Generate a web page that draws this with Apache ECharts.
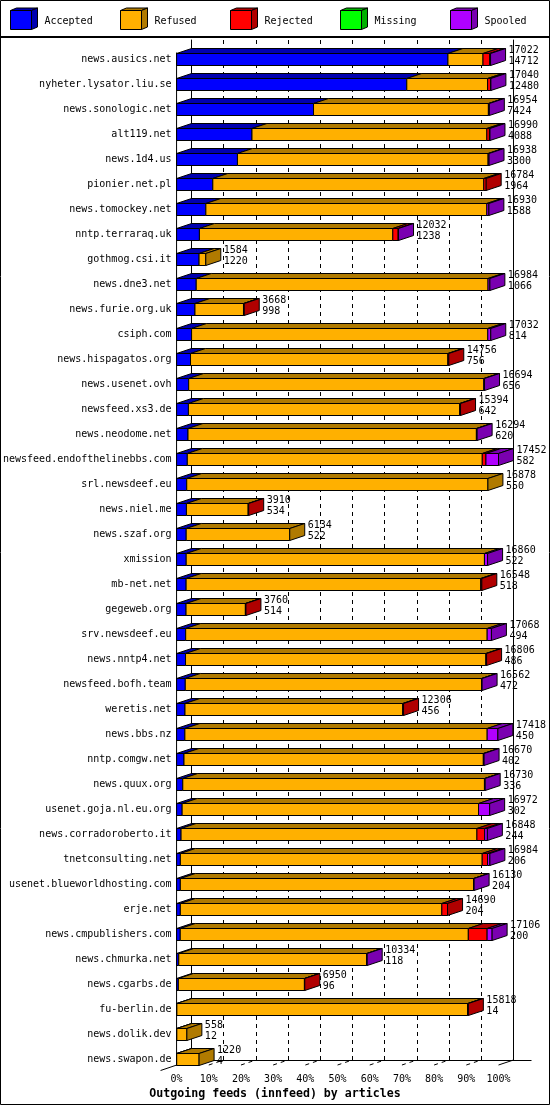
<!DOCTYPE html>
<html><head><meta charset="utf-8">
<script src="https://cdn.jsdelivr.net/npm/echarts@6/dist/echarts.min.js"></script>
<style>html,body{margin:0;padding:0;background:#fff}#c{width:550px;height:1105px}</style>
</head><body><div id="c"></div>
<script>
// ---------------- data ----------------
const hosts = ['news.ausics.net','nyheter.lysator.liu.se','news.sonologic.net','alt119.net','news.1d4.us','pionier.net.pl','news.tomockey.net','nntp.terraraq.uk','gothmog.csi.it','news.dne3.net','news.furie.org.uk','csiph.com','news.hispagatos.org','news.usenet.ovh','newsfeed.xs3.de','news.neodome.net','newsfeed.endofthelinebbs.com','srl.newsdeef.eu','news.niel.me','news.szaf.org','xmission','mb-net.net','gegeweb.org','srv.newsdeef.eu','news.nntp4.net','newsfeed.bofh.team','weretis.net','news.bbs.nz','nntp.comgw.net','news.quux.org','usenet.goja.nl.eu.org','news.corradoroberto.it','tnetconsulting.net','usenet.blueworldhosting.com','erje.net','news.cmpublishers.com','news.chmurka.net','news.cgarbs.de','fu-berlin.de','news.dolik.dev','news.swapon.de'];
const offered  = [17022,17040,16954,16990,16938,16784,16930,12032,1584,16984,3668,17032,14756,16694,15394,16294,17452,16878,3910,6134,16860,16548,3760,17068,16806,16562,12306,17418,16670,16730,16972,16848,16984,16130,14690,17106,10334,6950,15818,558,1220];
const accepted = [14712,12480,7424,4088,3300,1964,1588,1238,1220,1066,998,814,756,656,642,620,582,550,534,522,522,518,514,494,486,472,456,450,402,336,302,244,206,204,204,200,118,96,14,12,4];
const refused  = [1900,4380,9480,12732,13588,14690,15232,10484,364,15818,2630,16058,13950,15998,14702,15634,15990,16328,3346,5612,16168,15970,3216,16344,16280,16060,11800,16388,16228,16354,16070,16039,16363,15896,14176,15616,10186,6834,15764,546,1216];
const rejected = [360,160,0,140,0,130,0,290,0,0,40,0,50,0,50,0,200,0,30,0,0,60,30,0,40,0,50,0,0,0,0,420,290,0,310,1020,0,20,40,0,0];
const missing  = [0,0,0,0,0,0,0,0,0,0,0,0,0,0,0,0,0,0,0,0,0,0,0,0,0,0,0,0,0,0,0,0,0,0,0,0,0,0,0,0,0];
const spooled  = [50,20,50,30,50,0,110,20,0,100,0,160,0,40,0,40,680,0,0,0,170,0,0,230,0,30,0,580,40,40,600,145,125,30,0,270,30,0,0,0,0];
const seriesNames = ['Accepted','Refused','Rejected','Missing','Spooled'];
const xTickLabels = ['0%','10%','20%','30%','40%','50%','60%','70%','80%','90%','100%'];
const titleText = 'Outgoing feeds (innfeed) by articles';

// ---------------- styles ----------------
const FRONT = ['#0000ff','#ffb000','#ff0000','#00ff00','#b000ff'];
const DARK  = ['#0000b0','#b07a00','#b00000','#00b000','#7a00b0'];
const FONT = '"DejaVu Sans Mono", "Liberation Mono", monospace';
const DX = 15, DY = -5, HALF = 6;
const FRONT_LEFT = 176.5, BACK_LEFT = 191.5, PLOT_W = 322;
const GRID_TOP = 47, ROW_H = 25;
const BACK_TOP = 40, BACK_BOTTOM = 1060;

const scaleMax = Math.max(...offered);
const pct = v => v / scaleMax * 100;
const rows = hosts.map((h, i) => [i, pct(accepted[i]), pct(refused[i]), pct(rejected[i]), pct(missing[i]), pct(spooled[i]), offered[i], accepted[i]]);

function renderItem(params, api) {
  const row = api.value(0);
  const segs = [api.value(1), api.value(2), api.value(3), api.value(4), api.value(5)];
  const c0 = api.coord([0, row]);
  const cy = c0[1];
  const yt = cy - HALF, yb = cy + HALF;
  const children = [];
  let cum = 0, lastIdx = -1, lastX = c0[0];
  for (let s = 0; s < 5; s++) {
    const v = segs[s];
    if (!(v > 0)) continue;
    const x0 = api.coord([cum, row])[0];
    cum += v;
    const x1 = api.coord([cum, row])[0];
    children.push({type: 'polygon', shape: {points: [[x0, yt], [x1, yt], [x1 + DX, yt + DY], [x0 + DX, yt + DY]]},
      style: {fill: DARK[s], stroke: '#000', lineWidth: 1}});
    children.push({type: 'rect', shape: {x: x0, y: yt, width: x1 - x0, height: yb - yt},
      style: {fill: FRONT[s], stroke: '#000', lineWidth: 1}});
    lastIdx = s; lastX = x1;
  }
  if (lastIdx >= 0) {
    children.push({type: 'polygon', shape: {points: [[lastX, yt], [lastX + DX, yt + DY], [lastX + DX, yb + DY], [lastX, yb]]},
      style: {fill: DARK[lastIdx], stroke: '#000', lineWidth: 1}});
  }
  const tx = lastX + DX + 3;
  children.push({type: 'text', style: {text: String(api.value(6)), x: tx, y: cy - 9.5, fill: '#000', font: '10px ' + FONT, align: 'left', verticalAlign: 'middle', textAlign: 'left', textVerticalAlign: 'middle'}});
  children.push({type: 'text', style: {text: String(api.value(7)), x: tx, y: cy + 2, fill: '#000', font: '10px ' + FONT, align: 'left', verticalAlign: 'middle', textAlign: 'left', textVerticalAlign: 'middle'}});
  return {type: 'group', children};
}

const chart = echarts.init(document.getElementById('c'), null, {renderer: 'canvas'});
chart.setOption({
  backgroundColor: '#fff',
  animation: false,
  title: {text: titleText, left: 'center', top: 1087, padding: 0,
    textStyle: {fontFamily: FONT, fontSize: 11.6, fontWeight: 'bold', color: '#000', lineHeight: 14}},
  grid: [
    {left: FRONT_LEFT, top: GRID_TOP, width: PLOT_W, height: ROW_H * hosts.length, containLabel: false},
    {left: BACK_LEFT, top: BACK_TOP, width: PLOT_W, height: BACK_BOTTOM - BACK_TOP, containLabel: false}
  ],
  xAxis: [
    {gridIndex: 0, type: 'value', min: 0, max: 100, interval: 10,
      axisLine: {show: false}, axisTick: {show: false}, splitLine: {show: false},
      axisLabel: {margin: 1, color: '#000', fontFamily: FONT, fontSize: 10, lineHeight: 12,
        formatter: v => xTickLabels[Math.round(v / 10)]}},
    {gridIndex: 1, type: 'value', min: 0, max: 100, interval: 10,
      axisLine: {show: false}, axisTick: {show: false}, axisLabel: {show: false},
      splitLine: {show: true, lineStyle: {color: '#000', width: 1, type: [4, 4]}}}
  ],
  yAxis: [
    {gridIndex: 0, type: 'category', data: hosts, inverse: true,
      axisLine: {show: false}, axisTick: {show: false}, splitLine: {show: false},
      axisLabel: {margin: 5, color: '#000', fontFamily: FONT, fontSize: 10, interval: 0}},
    {gridIndex: 1, type: 'value', min: 0, max: 1, position: 'left',
      axisLine: {show: true, onZero: false, lineStyle: {color: '#000', width: 1}},
      axisTick: {show: false}, axisLabel: {show: false}, splitLine: {show: false}},
    {gridIndex: 1, type: 'value', min: 0, max: 1, position: 'right',
      axisLine: {show: true, onZero: false, lineStyle: {color: '#000', width: 1}},
      axisTick: {show: false}, axisLabel: {show: false}, splitLine: {show: false}}
  ],
  series: [{
    type: 'custom', name: 'feeds', xAxisIndex: 0, yAxisIndex: 0, z: 2,
    renderItem: renderItem, data: rows, clip: false,
    encode: {x: [1, 2, 3, 4, 5], y: 0}
  }]
});

// ---------------- frame, legend and floor ----------------
const graphics = [];
graphics.push({type: 'rect', z: 10, shape: {x: 0.5, y: 0.5, width: 549, height: 1104}, style: {fill: null, stroke: '#000', lineWidth: 1}});
graphics.push({type: 'line', z: 10, shape: {x1: 0, y1: 37, x2: 550, y2: 37}, style: {stroke: '#000', lineWidth: 2}});
// legend
seriesNames.forEach((name, i) => {
  const x = 10.5 + 110 * i, y = 10.5, w = 21, h = 19, dx = 6, dy = -2.5;
  graphics.push({type: 'polygon', z: 10, shape: {points: [[x, y], [x + w, y], [x + w + dx, y + dy], [x + dx, y + dy]]}, style: {fill: DARK[i], stroke: '#000', lineWidth: 1}});
  graphics.push({type: 'polygon', z: 10, shape: {points: [[x + w, y], [x + w + dx, y + dy], [x + w + dx, y + h + dy], [x + w, y + h]]}, style: {fill: DARK[i], stroke: '#000', lineWidth: 1}});
  graphics.push({type: 'rect', z: 10, shape: {x: x, y: y, width: w, height: h}, style: {fill: FRONT[i], stroke: '#000', lineWidth: 1}});
  graphics.push({type: 'text', z: 10, style: {text: name, x: 44.5 + 110 * i, y: 21, fill: '#000', font: '10px ' + FONT, textVerticalAlign: 'middle', verticalAlign: 'middle'}});
});
// floor lines
const FLOOR_FRONT = BACK_BOTTOM - DY;
const fx = p => chart.convertToPixel({xAxisIndex: 0}, p);
const bx = p => chart.convertToPixel({xAxisIndex: 1}, p);
graphics.push({type: 'line', z: 0, shape: {x1: bx(0), y1: BACK_BOTTOM + 0.5, x2: bx(100) + 18, y2: BACK_BOTTOM + 0.5}, style: {stroke: '#000', lineWidth: 1}});
graphics.push({type: 'line', z: 0, shape: {x1: fx(0) - 16, y1: FLOOR_FRONT + 5.5, x2: bx(0), y2: BACK_BOTTOM}, style: {stroke: '#000', lineWidth: 1}});
graphics.push({type: 'line', z: 0, shape: {x1: fx(100), y1: FLOOR_FRONT, x2: bx(100), y2: BACK_BOTTOM}, style: {stroke: '#000', lineWidth: 1}});
for (let k = 1; k < 10; k++) {
  graphics.push({type: 'line', z: 0, shape: {x1: fx(k * 10), y1: FLOOR_FRONT, x2: bx(k * 10), y2: BACK_BOTTOM}, style: {stroke: '#000', lineWidth: 1, lineDash: [4, 4]}});
}
// front vertical axis
graphics.push({type: 'line', z: 5, shape: {x1: fx(0), y1: GRID_TOP + ROW_H / 2 - HALF - 1, x2: fx(0), y2: FLOOR_FRONT}, style: {stroke: '#000', lineWidth: 1}});
chart.setOption({graphic: {elements: graphics}});
</script>
</body></html>
